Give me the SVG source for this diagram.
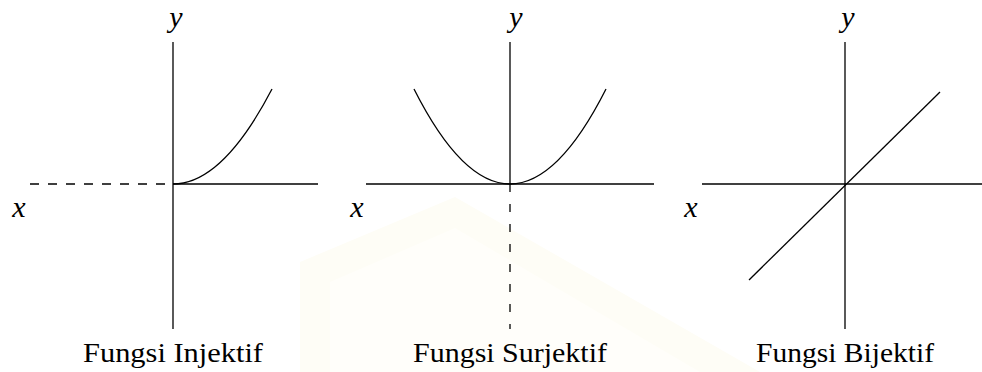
<svg xmlns="http://www.w3.org/2000/svg" width="982" height="372" viewBox="0 0 982 372">
<style>
.ax{stroke:#000;stroke-width:1.3;fill:none}
.dh{stroke:#000;stroke-width:1.3;fill:none;stroke-dasharray:9 9}
.dv{stroke:#000;stroke-width:1.3;fill:none;stroke-dasharray:8 12}
.cv{stroke:#000;stroke-width:1.3;fill:none}
.var{font-style:italic;font-size:30px;fill:#000;text-anchor:middle}
.cap{font-size:27px;fill:#000;text-anchor:middle}
</style>
<g id="watermark">
<path d="M300 372 L300 262 L455 197 L760 372 Z" fill="#fefdf6"/>
<path d="M330 372 L330 282 L455 228 L700 372 Z" fill="#fffefa"/>
</g>
<g id="injektif" font-family="Liberation Serif, DejaVu Serif, serif">
<line class="ax" x1="173" y1="42" x2="173" y2="329"/>
<line class="ax" x1="173" y1="184" x2="318" y2="184"/>
<line class="dh" x1="30" y1="184" x2="173" y2="184"/>
<path class="cv" d="M173 184 Q222.5 184 272 89"/>
<text class="var" x="176" y="27">y</text>
<text class="var" x="19" y="217">x</text>
<text class="cap" x="173" y="362" textLength="180" lengthAdjust="spacingAndGlyphs">Fungsi Injektif</text>
</g>
<g id="surjektif" font-family="Liberation Serif, DejaVu Serif, serif">
<line class="ax" x1="510" y1="42" x2="510" y2="184"/>
<line class="dv" x1="510" y1="184" x2="510" y2="329"/>
<line class="ax" x1="366" y1="184" x2="654" y2="184"/>
<path class="cv" d="M414 89 Q510 279 606 89"/>
<text class="var" x="516" y="27">y</text>
<text class="var" x="357" y="217">x</text>
<text class="cap" x="510" y="362" textLength="194" lengthAdjust="spacingAndGlyphs">Fungsi Surjektif</text>
</g>
<g id="bijektif" font-family="Liberation Serif, DejaVu Serif, serif">
<line class="ax" x1="845" y1="42" x2="845" y2="329"/>
<line class="ax" x1="702" y1="184" x2="982" y2="184"/>
<line class="cv" x1="749" y1="280" x2="940" y2="92"/>
<text class="var" x="848" y="27">y</text>
<text class="var" x="691" y="217">x</text>
<text class="cap" x="845" y="362" textLength="178" lengthAdjust="spacingAndGlyphs">Fungsi Bijektif</text>
</g>
<g id="connectors"/>
</svg>
